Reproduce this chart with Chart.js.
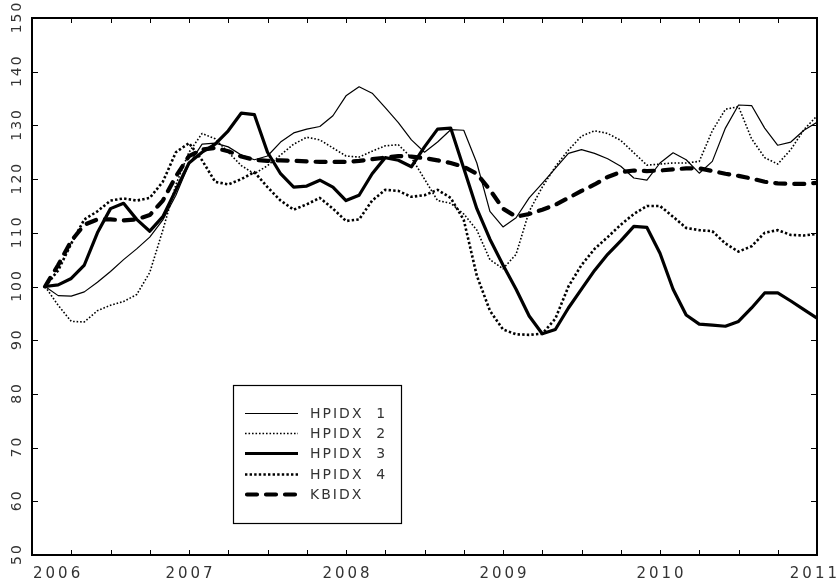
<!DOCTYPE html>
<html>
<head>
<meta charset="utf-8">
<script src="https://cdn.jsdelivr.net/npm/chart.js@4.4.1/dist/chart.umd.min.js"></script>
<style>
html,body{margin:0;padding:0;background:#fff;}
#wrap{width:838px;height:583px;}
</style>
</head>
<body>
<div id="wrap"><canvas id="c" width="838" height="583"></canvas></div>
<script>
// Months since Jan 2006 (1..60), 60 = start of 2011
const months = Array.from({length:60},(_, i)=> i + 1);
const yearLabels = ['2006','2007','2008','2009','2010','2011'];
const yTickLabels = [50,60,70,80,90,100,110,120,130,140,150];
const seriesNames = ['HPIDX  1','HPIDX  2','HPIDX  3','HPIDX  4','KBIDX'];

const hpidx1 = [100,98.3,98.2,99,100.8,102.8,105,107,109.2,112.4,117,122.8,
  126.5,126.7,126,124.5,123.6,124.3,126.9,128.6,129.3,129.8,131.8,135.5,
  137.2,136,133.3,130.5,127.3,125,126.9,129.2,129.1,123,114,111.1,
  112.8,116.5,119.2,122,124.8,125.5,124.8,123.8,122.4,120.2,119.8,123,
  124.9,123.6,121.1,123.3,129.5,133.8,133.7,129.5,126.3,126.9,129.1,130.6];
const hpidx2 = [100,96.5,93.5,93.4,95.5,96.5,97.2,98.5,102.6,110.5,119,125,
  128.5,127.5,125,122.5,121,122.5,124.5,126.5,127.8,127.3,125.8,124.3,
  124.1,125.2,126.2,126.4,124,120,116,115.5,113.5,110.5,105,103.3,
  106,114,118.5,122.3,125.4,128,129,128.5,127.2,124.9,122.6,122.8,
  123,123,123.3,129,133,133.5,127.5,124,122.8,125.5,129.2,131.8];
const hpidx3 = [100,100.3,101.5,104,110,114.5,115.5,112.5,110.3,113,118,123,
  125,126.5,129,132.3,132,125,121,118.5,118.7,119.8,118.5,116,
  117,121,124,123.5,122.3,126,129.3,129.5,122,114.5,108.8,104,
  99.5,94.5,91.2,92,96,99.5,103,106,108.5,111.2,111,106.2,
  99.5,94.7,93,92.8,92.6,93.5,96,98.8,98.8,97.3,95.7,94.1];
const hpidx4 = [100,103,108,112.5,114,116,116.4,116,116.5,119.5,125,126.7,
  123.5,119.5,119,120,121.3,118.5,116,114.3,115.3,116.5,114.5,112.2,
  112.5,116,118,117.8,116.7,117,118,116.5,112.4,102,95.5,92,
  91.1,91,91.2,94,100,104,107,109.2,111.5,113.5,115,115,
  113,110.9,110.5,110.3,108,106.5,107.5,110,110.5,109.6,109.5,109.8];
const kbidx = [100,104,108.5,111.5,112.5,112.5,112.3,112.5,113.3,116,120.5,124.3,
  125.5,125.8,125.2,124.2,123.6,123.4,123.5,123.4,123.3,123.2,123.2,123.2,
  123.4,123.7,124,124.3,124.2,123.9,123.5,123,122.3,121,118,114.5,
  113,113.5,114.3,115.2,116.5,117.8,119,120.4,121.3,121.6,121.5,121.6,
  121.8,122,122,121.5,121,120.6,120.1,119.5,119.2,119.1,119.1,119.3];

const styles = [
  {borderWidth:1.2, borderDash:[], cap:'butt'},
  {borderWidth:1.6, borderDash:[1.6,1.9], cap:'butt'},
  {borderWidth:3.2, borderDash:[], cap:'butt'},
  {borderWidth:2.6, borderDash:[2.4,2.2], cap:'butt'},
  {borderWidth:4.2, borderDash:[10,9], cap:'round'}
];
const allSeries = [hpidx1,hpidx2,hpidx3,hpidx4,kbidx];

const datasets = allSeries.map((s,k)=>({
  label: seriesNames[k],
  data: months.map((m,i)=>({x:m, y:s[i]})),
  borderColor:'#000',
  borderWidth: styles[k].borderWidth,
  borderDash: styles[k].borderDash,
  borderCapStyle: styles[k].cap,
  borderJoinStyle:'round',
  pointRadius:0,
  tension:0,
  fill:false
}));

const FONT = '14px "DejaVu Sans"';
const XFONT = '15px "DejaVu Sans"';
const TXT = '#333';

const frame = {
  id:'frame',
  afterDraw(chart){
    const ctx = chart.ctx, a = chart.chartArea;
    const xs = chart.scales.x, ys = chart.scales.y;
    ctx.save();
    ctx.strokeStyle = '#000';
    ctx.lineWidth = 2;
    ctx.setLineDash([]);
    ctx.strokeRect(a.left, a.top, a.right - a.left, a.bottom - a.top);
    ctx.lineWidth = 1;
    // x ticks every quarter, inward at bottom and top
    for (let m = 3; m < 60; m += 3) {
      const px = Math.round(xs.getPixelForValue(m)) + 0.5;
      ctx.beginPath();
      ctx.moveTo(px, a.bottom); ctx.lineTo(px, a.bottom - 5);
      ctx.moveTo(px, a.top); ctx.lineTo(px, a.top + 5);
      ctx.stroke();
    }
    // y ticks every 10, inward on left and right
    yTickLabels.forEach(v=>{
      if (v === 50 || v === 150) return;
      const py = Math.round(ys.getPixelForValue(v)) + 0.5;
      ctx.beginPath();
      ctx.moveTo(a.left, py); ctx.lineTo(a.left + 6, py);
      ctx.moveTo(a.right, py); ctx.lineTo(a.right - 6, py);
      ctx.stroke();
    });
    ctx.fillStyle = TXT;
    ctx.font = XFONT;
    ctx.letterSpacing = '3px';
    // x labels
    ctx.textBaseline = 'alphabetic';
    yearLabels.forEach((lab,i)=>{
      const px = xs.getPixelForValue(i*12);
      const w = ctx.measureText(lab).width - 3;
      let x0 = px - w/2;
      if (x0 < a.left) x0 = a.left + 1;
      if (x0 + w > 837) x0 = 837 - w;
      ctx.textAlign = 'left';
      ctx.fillText(lab, x0, 578);
    });
    // y labels rotated
    ctx.font = FONT;
    ctx.letterSpacing = '2px';
    yTickLabels.forEach(v=>{
      const py = ys.getPixelForValue(v);
      ctx.save();
      ctx.translate(21, py);
      ctx.rotate(-Math.PI/2);
      ctx.textBaseline = 'alphabetic';
      const w = ctx.measureText(String(v)).width - 2;
      ctx.textAlign = 'left';
      ctx.fillText(String(v), -w/2, 0);
      ctx.restore();
    });
    // legend box
    ctx.fillStyle = '#fff';
    ctx.fillRect(233, 385, 168, 138);
    ctx.strokeStyle = '#000';
    ctx.lineWidth = 1.2;
    ctx.strokeRect(233.5, 385.5, 168, 138);
    const rows = [413, 433, 453, 474, 494];
    datasets.forEach((d,k)=>{
      const y = rows[k] + 0.5;
      ctx.save();
      ctx.strokeStyle = '#000';
      ctx.lineWidth = d.borderWidth;
      ctx.setLineDash(d.borderDash);
      ctx.lineCap = d.borderCapStyle;
      ctx.beginPath();
      ctx.moveTo(k === 4 ? 247 : 245, y);
      ctx.lineTo(298, y);
      ctx.stroke();
      ctx.restore();
      ctx.fillStyle = TXT;
      ctx.font = FONT;
      ctx.letterSpacing = '2px';
      ctx.textAlign = 'left';
      ctx.textBaseline = 'middle';
      ctx.fillText(d.label, 310, rows[k] + 1);
    });
    ctx.restore();
  }
};

new Chart(document.getElementById('c'), {
  type:'line',
  data:{datasets},
  options:{
    responsive:false,
    animation:false,
    layout:{padding:{left:32, right:21, top:18, bottom:28}},
    plugins:{legend:{display:false}, tooltip:{enabled:false}},
    scales:{
      x:{type:'linear', min:0, max:60, display:false},
      y:{type:'linear', min:50, max:150, display:false}
    }
  },
  plugins:[frame]
});
</script>
</body>
</html>
